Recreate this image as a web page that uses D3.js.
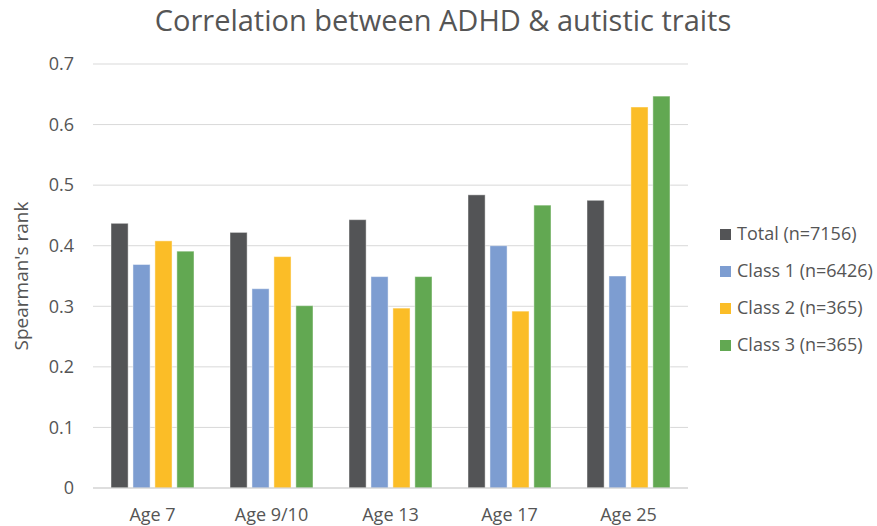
<!DOCTYPE html>
<html>
<head>
<meta charset="utf-8">
<script src="https://cdn.jsdelivr.net/npm/d3@7"></script>
<style>
	body { margin: 0; background: #fff; }
	svg { font-family: "Open Sans", "Noto Sans", sans-serif; }
</style>
</head>
<body>
<svg id="chart" width="877" height="526"></svg>
<script>
// values
const ages = ["Age 7", "Age 9/10", "Age 13", "Age 17", "Age 25"];
const seriesNames = ["Total (n=7156)", "Class 1 (n=6426)", "Class 2 (n=365)", "Class 3 (n=365)"];
const total = [0.437, 0.422, 0.443, 0.484, 0.475];
const class1 = [0.369, 0.329, 0.349, 0.400, 0.350];
const class2 = [0.408, 0.382, 0.297, 0.292, 0.629];
const class3 = [0.391, 0.301, 0.349, 0.467, 0.647];
const yTicks = [0, 0.1, 0.2, 0.3, 0.4, 0.5, 0.6, 0.7];
const colors = ["#535456", "#7d9dd1", "#fbbd27", "#62a852"];

const allSeries = [total, class1, class2, class3];

const svg = d3.select("#chart");
const margin = {left: 93, right: 189, top: 64, bottom: 38};
const W = 877, H = 526;
const textCol = "#555555";

const x = d3.scaleBand().domain(ages).range([margin.left, W - margin.right]).paddingInner(0).paddingOuter(0);
const xInner = d3.scaleBand().domain(d3.range(allSeries.length)).range([0, x.bandwidth()]).paddingInner(0.22).paddingOuter(0.82);
const y = d3.scaleLinear().domain([0, 0.7]).range([H - margin.bottom, margin.top]);

// gridlines
svg.append("g")
	.selectAll("line")
	.data(yTicks)
	.join("line")
	.attr("x1", margin.left)
	.attr("x2", W - margin.right)
	.attr("y1", d => y(d))
	.attr("y2", d => y(d))
	.attr("stroke", "#d9d9d9")
	.attr("stroke-width", 1);

// y tick labels
svg.append("g")
	.selectAll("text")
	.data(yTicks)
	.join("text")
	.attr("x", 74)
	.attr("y", d => y(d))
	.attr("dy", "0.35em")
	.attr("text-anchor", "end")
	.attr("fill", textCol)
	.attr("font-size", 18)
	.attr("font-weight", 500)
	.text(d => d === 0 ? "0" : d3.format(".1f")(d));

// bars
const groups = svg.append("g")
	.selectAll("g")
	.data(ages)
	.join("g")
	.attr("transform", d => `translate(${x(d)},0)`);

groups.selectAll("rect")
	.data((d, i) => allSeries.map((s, k) => ({k: k, v: s[i]})))
	.join("rect")
	.attr("x", d => xInner(d.k))
	.attr("width", xInner.bandwidth())
	.attr("y", d => y(d.v))
	.attr("height", d => y(0) - y(d.v))
	.attr("fill", d => colors[d.k])
	.attr("stroke", "#ffffff")
	.attr("stroke-opacity", 0.45)
	.attr("stroke-width", 1);

// baseline
svg.append("line")
	.attr("x1", margin.left)
	.attr("x2", W - margin.right)
	.attr("y1", y(0))
	.attr("y2", y(0))
	.attr("stroke", "#d0d0d0")
	.attr("stroke-width", 1.2);

// x labels
svg.append("g")
	.selectAll("text")
	.data(ages)
	.join("text")
	.attr("x", d => x(d) + x.bandwidth() / 2)
	.attr("y", 521)
	.attr("text-anchor", "middle")
	.attr("fill", textCol)
	.attr("font-size", 18)
	.attr("font-weight", 500)
	.text(d => d);

// y axis title
svg.append("text")
	.attr("transform", `translate(28,${(y(0) + y(0.7)) / 2}) rotate(-90)`)
	.attr("text-anchor", "middle")
	.attr("fill", textCol)
	.attr("font-size", 19)
	.attr("font-weight", 500)
	.text("Spearman's rank");

// title
svg.append("text")
	.attr("x", 443)
	.attr("y", 31)
	.attr("text-anchor", "middle")
	.attr("fill", textCol)
	.attr("font-size", 29)
	.attr("font-weight", 500)
	.text("Correlation between ADHD & autistic traits");

// legend
const legend = svg.append("g")
	.selectAll("g")
	.data(seriesNames)
	.join("g")
	.attr("transform", (d, i) => `translate(720,${234 + i * 37})`);

legend.append("rect")
	.attr("x", 0)
	.attr("y", -5)
	.attr("width", 11)
	.attr("height", 11)
	.attr("fill", (d, i) => colors[i]);

legend.append("text")
	.attr("x", 17)
	.attr("y", 0)
	.attr("dy", "0.35em")
	.attr("fill", textCol)
	.attr("font-size", 18)
	.attr("font-weight", 500)
	.text(d => d);
</script>
</body>
</html>
